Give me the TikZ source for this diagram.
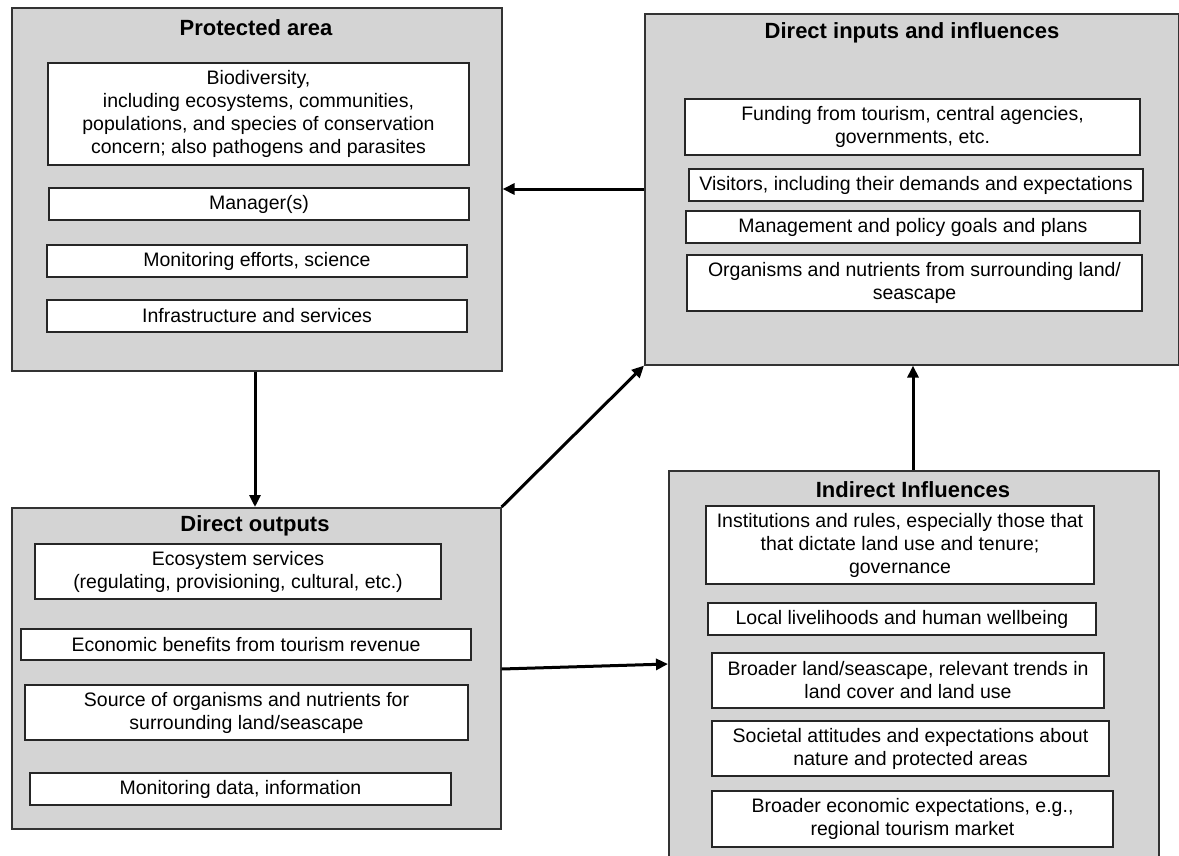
\documentclass[tikz,border=0pt]{standalone}
\usepackage{fontspec}
\setmainfont{Liberation Sans}
\usetikzlibrary{arrows.meta}

\begin{document}
\begin{tikzpicture}[x=1pt,y=-1pt,
    group/.style={rectangle,draw=black!80,fill=black!17,line width=1.6pt,anchor=north west,inner sep=0pt},
    head/.style={font=\fontsize{22}{26}\selectfont\bfseries},
    item/.style={rectangle,draw=black!85,fill=white,line width=1.5pt,inner sep=0pt,align=center,font=\fontsize{19.5}{23}\selectfont},
    conn/.style={line width=3pt,-{Triangle[length=12pt,width=11pt]}}]

\useasboundingbox (0,0) rectangle (1179,855);

% the four groups
\node[group,minimum width=490,minimum height=363] (prot) at (11,7) {};
\node[group,minimum width=534,minimum height=351] (dinp) at (644,13) {};
\node[group,minimum width=489,minimum height=321] (dout) at (11,507) {};
\node[group,minimum width=490,minimum height=400] (indir) at (668,470) {};

\node[head] (prothead) at (256,28) {Protected area};
\node[head] (dinphead) at (912,33) {Direct inputs and influences};
\node[head] (douthead) at (255,526) {Direct outputs};
\node[head] (indirhead) at (913,490) {Indirect Influences};

% links between groups
\draw[conn] (dinp.west |- 0,189) -- (prot.east |- 0,189);
\draw[conn] (prot.south -| 255,0) -- (dout.north -| 255,0);
\draw[conn] (dout.north east) -- (dinp.south west);
\draw[conn] (dout.east |- 0,669) -- (indir.west |- 0,664);
\draw[conn] (indir.north -| 913,0) -- (dinp.south -| 913,0);

% protected area
\node[item,minimum width=421,minimum height=102] (bio) at (258.5,114) {Biodiversity,\\including ecosystems, communities,\\populations, and species of conservation\\concern; also pathogens and parasites};
\node[item,minimum width=420,minimum height=32] (mgr) at (259,204) {Manager(s)};
\node[item,minimum width=420,minimum height=32] (mon) at (257,261) {Monitoring efforts, science};
\node[item,minimum width=420,minimum height=32] (infra) at (257,316) {Infrastructure and services};

% direct inputs
\node[item,minimum width=455,minimum height=56] (fund) at (912.5,127) {Funding from tourism, central agencies,\\governments, etc.};
\node[item,minimum width=454,minimum height=32] (vis) at (916,185) {Visitors, including their demands and expectations};
\node[item,minimum width=454,minimum height=32] (mgmt) at (913,227) {Management and policy goals and plans};
\node[item,minimum width=455,minimum height=56] (orgs) at (914.5,283) {Organisms and nutrients from surrounding land/\\seascape};

% direct outputs
\node[item,minimum width=406,minimum height=55] (eco) at (238,571.5) {Ecosystem services\\(regulating, provisioning, cultural, etc.)};
\node[item,minimum width=450,minimum height=31] (econ) at (246,644.5) {Economic benefits from tourism revenue};
\node[item,minimum width=443,minimum height=55] (src) at (246.5,712.5) {Source of organisms and nutrients for\\surrounding land/seascape};
\node[item,minimum width=421,minimum height=32] (mdata) at (240.5,789) {Monitoring data, information};

% indirect influences
\node[item,minimum width=388,minimum height=78] (inst) at (900,545) {Institutions and rules, especially those that\\that dictate land use and tenure;\\governance};
\node[item,minimum width=388,minimum height=32] (local) at (902,619) {Local livelihoods and human wellbeing};
\node[item,minimum width=392,minimum height=55] (bland) at (908,680.5) {Broader land/seascape, relevant trends in\\land cover and land use};
\node[item,minimum width=397,minimum height=55] (soc) at (910.5,748.5) {Societal attitudes and expectations about\\nature and protected areas};
\node[item,minimum width=401,minimum height=56] (becon) at (912.5,819) {Broader economic expectations, e.g.,\\regional tourism market};
\end{tikzpicture}
\end{document}
